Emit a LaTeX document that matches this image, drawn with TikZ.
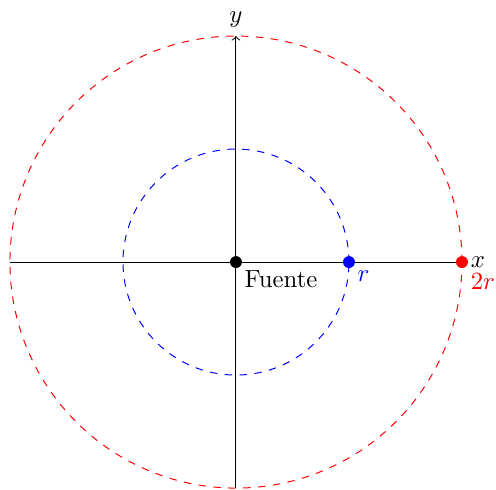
\documentclass[tikz,border=0pt]{standalone}
\usetikzlibrary{positioning}
\begin{document}
\begin{tikzpicture}[x=1.6cm,y=1.6cm,
 orbit/.style={dashed},
 dot/.style={circle,fill,inner sep=0pt,minimum size=4.8pt}]
\useasboundingbox (-2.088,-2.009) rectangle (2.301,2.319);
% ejes
\coordinate (xmin) at (-2,0);
\coordinate (xmax) at (2,0);
\coordinate (ymin) at (0,-2);
\coordinate (ymax) at (0,2);
\draw[->] (xmin) -- (xmax) node[right] (xlab) {$x$};
\draw[->] (ymin) -- (ymax) node[above] (ylab) {$y$};
% circunferencias
\draw[orbit,blue] (0,0) circle [radius=1];
\draw[orbit,red] (0,0) circle [radius=2];
% puntos
\node[dot] (src) at (0,0) {};
\node[dot,blue] (p1) at (1,0) {};
\node[dot,red] (p2) at (2,0) {};
\node[below right] (srclab) at (src.center) {Fuente};
\node[below right,blue] (p1lab) at (p1.center) {$r$};
\node[below right,red] (p2lab) at ([yshift=-1pt]p2.center) {$2r$};
\end{tikzpicture}
\end{document}
